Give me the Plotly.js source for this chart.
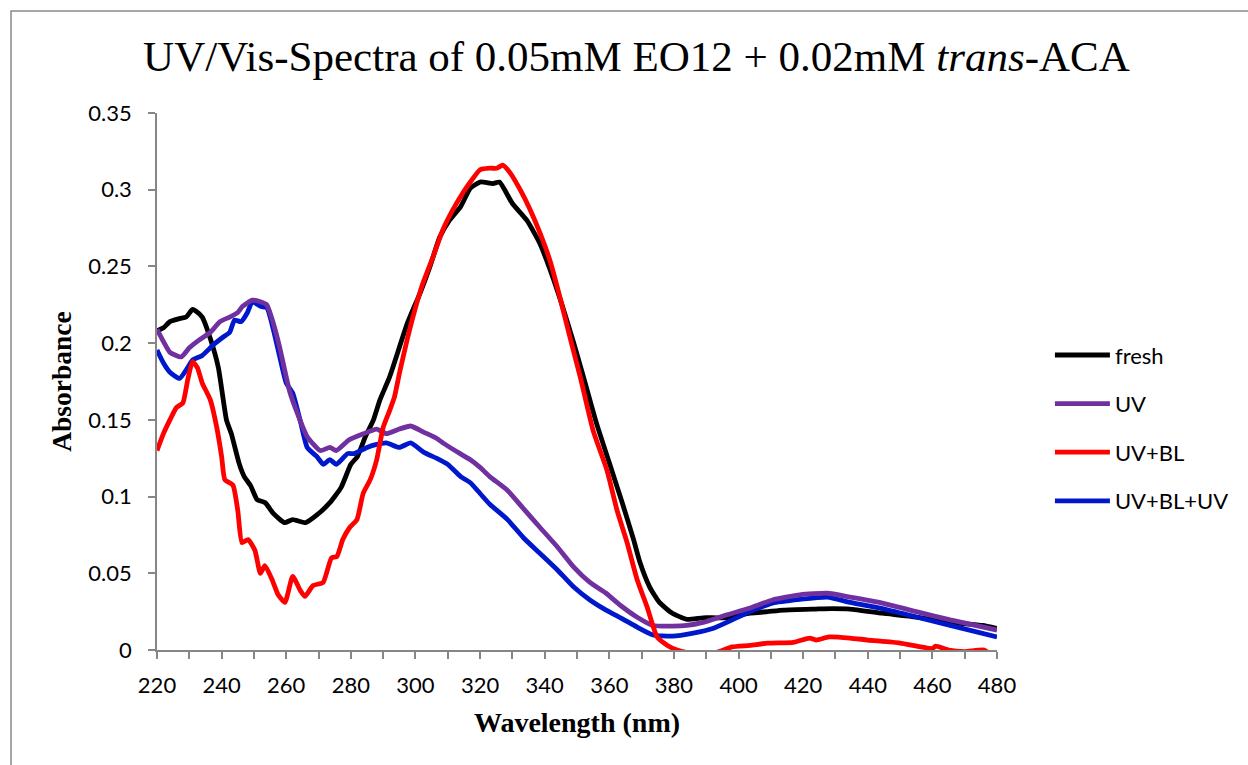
<!DOCTYPE html>
<html>
<head>
<meta charset="utf-8">
<script src="https://cdn.plot.ly/plotly-3.0.1.min.js"></script>
<style>
  html, body { margin: 0; padding: 0; background: #ffffff; }
  #chart { width: 1248px; height: 765px; }
</style>
</head>
<body>
<div id="chart"></div>
<script>
// ---- Data ----
const seriesNames = ["fresh", "UV", "UV+BL", "UV+BL+UV"];

const wlFresh = [220, 222, 224, 227, 229, 231, 232, 234, 236.5, 239, 241.5, 243, 245.5, 247, 249, 251, 253.5, 256, 259.5, 262, 266, 269.5, 273.5, 277, 280, 282, 284.5, 287, 289, 292, 297.5, 301.5, 304.5, 307.5, 310.5, 314, 317, 320, 324, 326, 330, 334.5, 338.5, 342.5, 345.5, 349, 352, 356, 360, 364, 367.5, 369.5, 372.5, 375.5, 379.5, 384, 389, 394, 398, 403.5, 409, 414, 424, 429, 434.5, 444.5, 455, 465.5, 475.5, 480];
const absFresh = [0.208, 0.210, 0.214, 0.216, 0.217, 0.222, 0.221, 0.217, 0.203, 0.184, 0.150, 0.141, 0.121, 0.113, 0.107, 0.098, 0.096, 0.089, 0.083, 0.085, 0.083, 0.088, 0.096, 0.106, 0.121, 0.126, 0.139, 0.150, 0.163, 0.178, 0.213, 0.233, 0.250, 0.269, 0.280, 0.289, 0.301, 0.305, 0.304, 0.305, 0.291, 0.280, 0.265, 0.243, 0.224, 0.200, 0.178, 0.148, 0.122, 0.096, 0.072, 0.057, 0.041, 0.031, 0.024, 0.020, 0.021, 0.021, 0.0215, 0.024, 0.025, 0.026, 0.0267, 0.027, 0.0267, 0.024, 0.0215, 0.018, 0.016, 0.014];

const wlUV = [220, 222, 224, 227.5, 230, 233, 236.5, 239.5, 242.5, 245, 246.5, 249.5, 252, 254, 256, 258, 260, 261, 263.5, 266.5, 270.5, 273.5, 275.5, 279.5, 284, 288, 291, 295, 298.5, 302.5, 306.5, 308.5, 313, 317, 320, 323, 328.5, 333.5, 338.5, 344, 349, 354, 359, 363.5, 368.5, 373.5, 379.5, 384, 389, 396.5, 403, 407, 410.5, 419, 427.5, 434.5, 444.5, 455, 465.5, 480];
const absUV = [0.209, 0.201, 0.194, 0.191, 0.197, 0.202, 0.207, 0.214, 0.217, 0.220, 0.224, 0.228, 0.227, 0.225, 0.213, 0.197, 0.178, 0.169, 0.154, 0.139, 0.130, 0.132, 0.130, 0.137, 0.141, 0.144, 0.141, 0.144, 0.146, 0.142, 0.138, 0.135, 0.129, 0.124, 0.119, 0.113, 0.104, 0.092, 0.080, 0.067, 0.054, 0.044, 0.037, 0.029, 0.0215, 0.016, 0.0156, 0.016, 0.018, 0.023, 0.027, 0.030, 0.0326, 0.036, 0.037, 0.0345, 0.0306, 0.025, 0.0196, 0.013];

const wlUVBL = [220, 222, 224, 226, 228, 229.5, 231, 232.5, 234, 236.5, 238.5, 240, 241, 243.5, 245, 246.3, 248.2, 250.3, 252, 253.4, 255.6, 257.5, 259.6, 262, 264.3, 265.8, 268.3, 271.4, 274, 275.7, 277.5, 279.7, 281.9, 283.8, 286, 288, 290, 292, 293.5, 295.2, 297.4, 299.2, 302.3, 305.4, 308.5, 311.6, 314.7, 317, 320, 323, 325.2, 327, 329.3, 332.4, 335.5, 338.5, 341.6, 344.7, 347.8, 351, 355, 359.3, 362.4, 365.5, 368.6, 371.7, 374.8, 378, 381, 385, 390, 394, 398, 403.5, 409, 417, 422, 424, 428, 434.5, 440, 450, 460, 461, 465, 470, 476, 478];
const absUVBL = [0.130, 0.141, 0.150, 0.158, 0.161, 0.176, 0.188, 0.184, 0.174, 0.163, 0.145, 0.126, 0.111, 0.1075, 0.091, 0.070, 0.072, 0.065, 0.050, 0.055, 0.046, 0.036, 0.031, 0.048, 0.039, 0.035, 0.042, 0.044, 0.060, 0.061, 0.072, 0.080, 0.085, 0.102, 0.111, 0.124, 0.145, 0.156, 0.165, 0.182, 0.202, 0.217, 0.239, 0.256, 0.274, 0.287, 0.298, 0.305, 0.313, 0.314, 0.314, 0.316, 0.311, 0.300, 0.287, 0.272, 0.254, 0.230, 0.204, 0.178, 0.143, 0.117, 0.091, 0.070, 0.046, 0.028, 0.0085, 0.003, 0.0, -0.002, -0.003, -0.001, 0.002, 0.003, 0.0045, 0.005, 0.0078, 0.0065, 0.0085, 0.0078, 0.0065, 0.0045, 0.001, 0.0025, 0.0, -0.001, 0.0, -0.003];

const wlUVBLUV = [220, 222, 224, 227, 229.5, 231, 234, 237.5, 240.5, 242.5, 244, 246, 248, 249.5, 252, 254, 256, 258, 260, 262, 264.5, 266.5, 269.5, 271.5, 273.5, 275.5, 279, 281, 285, 288, 291, 295, 298.5, 302.5, 306.5, 310, 314, 317, 320, 323, 328.5, 333.5, 338.5, 344, 349, 354, 359, 363.5, 368.5, 373.5, 379.5, 386, 392, 398, 403.5, 410.5, 419, 427.5, 434.5, 444.5, 455, 465.5, 480];
const absUVBLUV = [0.1955, 0.187, 0.181, 0.177, 0.184, 0.189, 0.192, 0.199, 0.204, 0.207, 0.215, 0.214, 0.220, 0.227, 0.224, 0.223, 0.209, 0.191, 0.174, 0.1675, 0.148, 0.132, 0.126, 0.121, 0.124, 0.121, 0.128, 0.128, 0.132, 0.134, 0.135, 0.132, 0.135, 0.129, 0.125, 0.121, 0.113, 0.109, 0.102, 0.095, 0.085, 0.073, 0.063, 0.052, 0.041, 0.0326, 0.026, 0.021, 0.015, 0.0098, 0.009, 0.011, 0.014, 0.0196, 0.025, 0.0306, 0.033, 0.0345, 0.031, 0.027, 0.0215, 0.016, 0.0085];

const seriesColors = ["#000000", "#7030A0", "#FF0000", "#0018CC"];

// ---- Traces (draw order: fresh, UV+BL+UV, UV, UV+BL) ----
function mk(i, xs, ys, rank) {
  return {
    type: "scatter", mode: "lines", name: seriesNames[i],
    x: xs, y: ys, legendgroup: "g" + i, legendrank: rank,
    line: { color: seriesColors[i], width: 4.8, shape: "spline", smoothing: 0.5 },
    hoverinfo: "x+y+name"
  };
}
const data = [
  mk(0, wlFresh, absFresh, 1),
  mk(3, wlUVBLUV, absUVBLUV, 4),
  mk(1, wlUV, absUV, 2),
  mk(2, wlUVBL, absUVBL, 3)
];

const axisGray = "#868686";
const layout = {
  width: 1248, height: 765,
  margin: { l: 157, r: 251, t: 113, b: 115 },
  paper_bgcolor: "#ffffff", plot_bgcolor: "#ffffff",
  showlegend: true,
  title: {
    text: "UV/Vis-Spectra of 0.05mM EO12 + 0.02mM <i>trans</i>-ACA",
    font: { family: "Liberation Serif, Times New Roman, serif", size: 43, color: "#000000" },
    x: 0.51, xref: "container", xanchor: "center",
    y: 0.927, yref: "container", yanchor: "middle"
  },
  xaxis: {
    range: [220, 480], dtick: 20, tick0: 220,
    showgrid: false, zeroline: false,
    showline: true, linecolor: axisGray, linewidth: 1.5,
    ticks: "outside", ticklen: 7, tickwidth: 1.5, tickcolor: axisGray,
    minor: { dtick: 10, tick0: 220, ticks: "outside", ticklen: 7, tickwidth: 1.5, tickcolor: axisGray, showgrid: false },
    tickfont: { family: "Lato, Open Sans, sans-serif", size: 22, color: "#000000" },
    ticklabelstandoff: 8,
    title: {
      text: "<b>Wavelength (nm)</b>", standoff: 15,
      font: { family: "Liberation Serif, Times New Roman, serif", size: 28, color: "#000000" }
    }
  },
  yaxis: {
    range: [0, 0.35], dtick: 0.05, tick0: 0,
    showgrid: false, zeroline: false,
    showline: true, linecolor: axisGray, linewidth: 1.5,
    ticks: "outside", ticklen: 7, tickwidth: 1.5, tickcolor: axisGray,
    tickfont: { family: "Lato, Open Sans, sans-serif", size: 22, color: "#000000" },
    ticklabelstandoff: 12,
    title: {
      text: "<b>Absorbance</b>", standoff: 9,
      font: { family: "Liberation Serif, Times New Roman, serif", size: 27.5, color: "#000000" }
    }
  },
  legend: {
    x: 1.063, xanchor: "left", xref: "paper",
    y: 0.413, yanchor: "middle", yref: "paper",
    traceorder: "grouped", tracegroupgap: 17, itemwidth: 55,
    font: { family: "Lato, Open Sans, sans-serif", size: 22, color: "#000000" },
    bgcolor: "rgba(0,0,0,0)", borderwidth: 0
  },
  shapes: [{
    type: "rect", xref: "paper", yref: "paper", layer: "below",
    x0: -0.1738, x1: 1.35, y0: -0.3, y1: 1.19,
    line: { color: "#8a8a8a", width: 1.5 }, fillcolor: "rgba(0,0,0,0)"
  }]
};

Plotly.newPlot("chart", data, layout, { displayModeBar: false });
</script>
</body>
</html>
